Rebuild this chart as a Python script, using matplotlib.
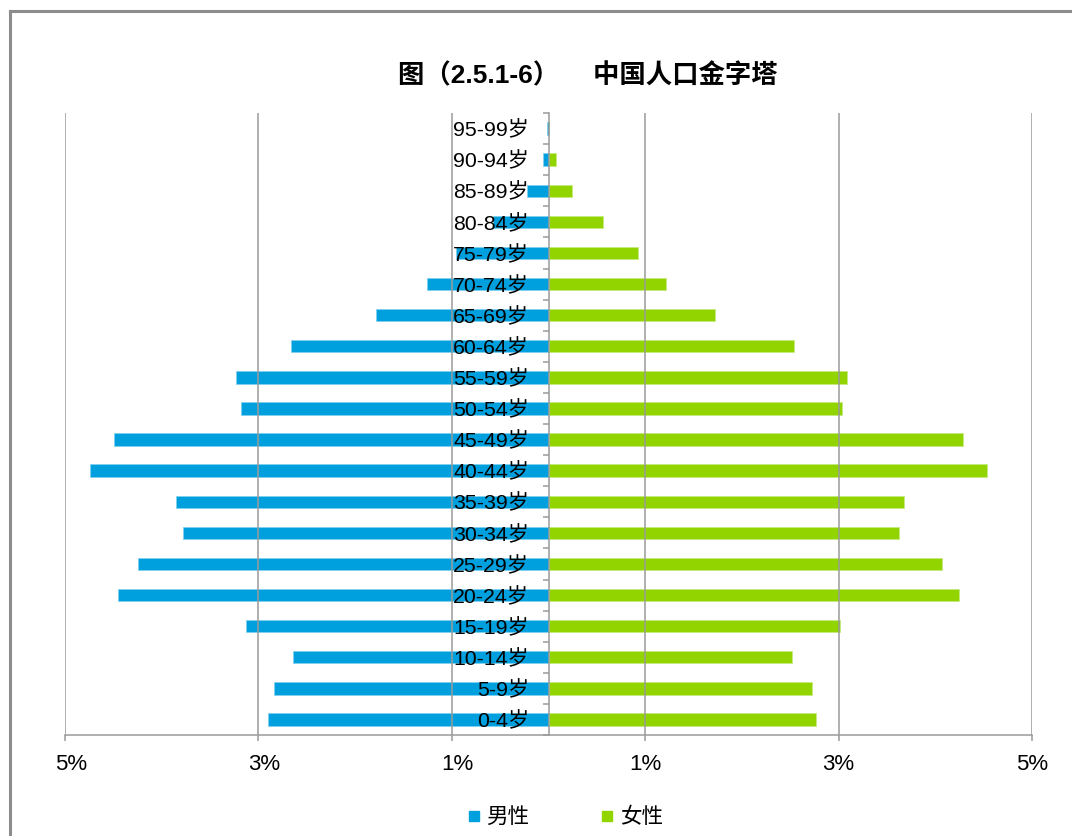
import matplotlib
matplotlib.use("Agg")
import matplotlib.pyplot as plt
import matplotlib.transforms as mtransforms
from matplotlib.lines import Line2D

# ===================== DỮ LIỆU =====================

age_groups = ["0-4岁", "5-9岁", "10-14岁", "15-19岁", "20-24岁", "25-29岁",
              "30-34岁", "35-39岁", "40-44岁", "45-49岁", "50-54岁", "55-59岁",
              "60-64岁", "65-69岁", "70-74岁", "75-79岁", "80-84岁", "85-89岁",
              "90-94岁", "95-99岁"]

male = [2.90, 2.84, 2.64, 3.13, 4.45, 4.25, 3.78, 3.85, 4.74, 4.49,
        3.18, 3.23, 2.66, 1.78, 1.26, 0.96, 0.575, 0.22, 0.06, 0.015]
female = [2.77, 2.73, 2.52, 3.01, 4.25, 4.07, 3.62, 3.68, 4.53, 4.29,
          3.04, 3.09, 2.54, 1.72, 1.22, 0.93, 0.56, 0.24, 0.08, 0.01]

x_ticks = [-5, -3, -1, 1, 3, 5]
x_tick_labels = ["5%", "3%", "1%", "1%", "3%", "5%"]

title = "图（2.5.1-6）　 中国人口金字塔"
legend_labels = ["男性", "女性"]

BLUE = "#00A0DE"
GREEN = "#92D400"
GRID = "#9a9a9a"

# ===================== VẼ =====================

plt.rcParams["font.family"] = ["Liberation Sans", "Noto Sans CJK SC"]

fig = plt.figure(figsize=(10.72, 8.36), dpi=100)
ax = fig.add_axes([65 / 1072, 101 / 836, 967 / 1072, 622 / 836])

y = list(range(len(age_groups)))
ax.barh(y, [-v for v in male], height=0.4, color=BLUE,
        edgecolor="#7fd0ef", linewidth=0.5)
ax.barh(y, female, height=0.4, color=GREEN,
        edgecolor="#c4ea7f", linewidth=0.5)

ax.set_xlim(-5, 5)
ax.set_ylim(-0.5, len(age_groups) - 0.5)

ax.set_xticks(x_ticks)
ax.set_xticklabels(x_tick_labels, fontsize=16)
ax.tick_params(axis="x", length=4, width=1.1, color=GRID, pad=10)
ax.xaxis.grid(True, color=GRID, linewidth=1.1)

# nhãn bên trái lệch sang phải một chút như bản gốc
shift = mtransforms.ScaledTranslation(6 / 100, 0, fig.dpi_scale_trans)
for tick_val, lab in zip(x_ticks, ax.get_xticklabels()):
    if tick_val < 0:
        lab.set_transform(lab.get_transform() + shift)

# trục giữa
ax.spines["left"].set_position(("data", 0))
ax.spines["left"].set_color(GRID)
ax.spines["left"].set_linewidth(1.1)
ax.spines["bottom"].set_color(GRID)
ax.spines["bottom"].set_linewidth(1.1)
ax.spines["top"].set_visible(False)
ax.spines["right"].set_visible(False)

ax.set_yticks(y)
ax.set_yticklabels(age_groups, fontsize=15.3)
ax.set_yticks([i - 0.5 for i in range(len(age_groups) + 1)], minor=True)
ax.tick_params(axis="y", which="major", length=0, pad=14)
ax.tick_params(axis="y", which="minor", length=4, width=1.1, color=GRID,
               direction="out")

fig.text(0.5485, 0.910, title, ha="center", va="center",
         fontsize=19, fontweight="bold")

handles = [
    Line2D([], [], marker="s", linestyle="none", markersize=7,
           markerfacecolor=BLUE, markeredgecolor=BLUE),
    Line2D([], [], marker="s", linestyle="none", markersize=7,
           markerfacecolor=GREEN, markeredgecolor=GREEN),
]
fig.legend(handles, legend_labels, loc="center", bbox_to_anchor=(0.527, 0.022),
           ncol=2, frameon=False, fontsize=15.5, handlelength=0.6,
           handletextpad=0.3, columnspacing=3.3)

# khung ngoài
fig.add_artist(Line2D([10 / 1072, 1], [1 - 11 / 836, 1 - 11 / 836],
                      color="#8c8c8c", linewidth=2.2))
fig.add_artist(Line2D([10 / 1072, 10 / 1072], [0, 1 - 11 / 836],
                      color="#8c8c8c", linewidth=2.2))

fig.savefig("out.png", dpi=100)
